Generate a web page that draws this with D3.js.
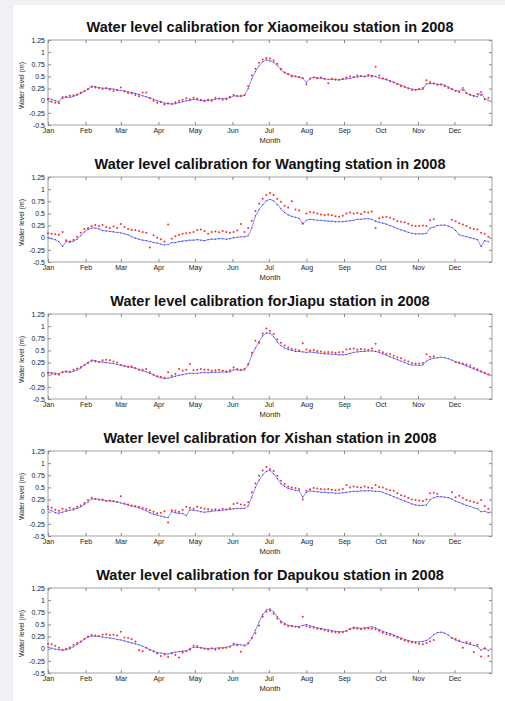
<!DOCTYPE html>
<html>
<head>
<meta charset="utf-8">
<script src="https://cdn.jsdelivr.net/npm/d3@7"></script>
<style>
  body { margin: 0; background: #eff1f5; }
  svg { display: block; font-family: "Liberation Sans", Arial, sans-serif; }
</style>
</head>
<body>
<svg id="chart" width="505" height="701"></svg>
<script>
// station titles, one per panel
var titles = [
  "Water level calibration for Xiaomeikou station in 2008",
  "Water level calibration for Wangting station in 2008",
  "Water level calibration forJiapu station in 2008",
  "Water level calibration for Xishan station in 2008",
  "Water level calibration for Dapukou station in 2008"
];

var yTicks = [-0.5, -0.25, 0, 0.25, 0.5, 0.75, 1, 1.25];

// values every 3 days from 1 Jan 2008
// blue = simulated, red = observed (null = no observation)
var blue1 = [0.05,0.03,0.0,-0.02,0.08,0.07,0.07,0.09,0.12,0.15,0.19,
  0.24,0.3,0.29,0.27,0.26,0.25,0.25,0.24,0.22,
  0.21,0.2,0.18,0.17,0.15,0.13,0.1,0.08,0.06,0.03,0.0,
  -0.03,-0.05,-0.06,-0.07,-0.06,-0.04,-0.02,0.0,0.01,0.03,
  0.02,0.0,0.01,0.0,0.02,0.03,0.05,0.04,0.05,0.06,
  0.1,0.1,0.09,0.11,0.25,0.45,0.6,0.72,0.8,0.84,
  0.82,0.79,0.73,0.64,0.58,0.54,0.52,0.5,0.48,0.46,
  0.38,0.46,0.48,0.47,0.46,0.45,0.44,0.44,0.43,0.43,0.44,
  0.45,0.46,0.48,0.49,0.5,0.5,0.51,0.52,0.5,0.47,
  0.45,0.43,0.41,0.38,0.35,0.32,0.29,0.26,0.24,0.23,
  0.23,0.24,0.35,0.35,0.35,0.34,0.33,0.32,0.28,0.24,
  0.21,0.2,0.27,0.15,0.12,0.1,0.08,0.19,0.04,0.01];
var red1 = [0.03,-0.02,-0.04,-0.05,0.05,0.08,0.1,0.11,0.13,0.17,0.2,
  0.24,0.28,0.27,0.26,0.24,0.26,0.23,0.2,0.22,
  0.27,0.19,0.16,0.15,0.12,0.09,0.17,0.17,0.05,0.0,-0.04,
  -0.02,-0.08,-0.05,-0.06,-0.03,0.0,0.02,0.05,0.03,0.06,
  0.04,0.02,-0.01,0.02,0.0,0.06,0.04,0.02,0.03,0.08,
  0.12,0.09,0.1,0.12,0.3,0.52,0.66,0.78,0.85,0.88,
  0.87,0.83,0.76,0.66,0.58,0.55,0.5,0.5,0.49,0.47,
  0.34,0.45,0.48,0.46,0.48,0.45,0.36,0.45,0.44,0.43,0.45,
  0.48,0.5,0.49,0.52,0.51,0.5,0.53,0.5,0.7,0.52,
  0.46,0.44,0.4,0.38,0.34,0.3,0.28,0.25,0.22,0.22,
  0.24,0.26,0.42,0.38,0.36,0.33,0.34,0.3,0.26,0.24,
  0.2,0.18,0.22,0.16,0.13,0.1,0.14,0.12,0.03,0.06];

var blue2 = [0.0,-0.02,-0.04,-0.08,-0.18,-0.08,-0.09,-0.07,-0.03,0.04,0.12,
  0.17,0.2,0.2,0.18,0.15,0.14,0.13,0.12,0.11,
  0.1,0.08,0.06,0.02,-0.01,-0.03,-0.05,-0.06,-0.08,-0.1,-0.11,
  -0.13,-0.15,-0.14,-0.1,-0.1,-0.08,-0.07,-0.06,-0.05,-0.05,
  -0.04,-0.05,-0.06,-0.04,-0.03,-0.03,-0.02,-0.02,-0.03,-0.02,
  0.0,0.01,0.02,0.02,0.04,0.2,0.45,0.58,0.68,0.76,
  0.79,0.76,0.68,0.6,0.52,0.47,0.44,0.42,0.4,0.28,
  0.36,0.38,0.37,0.36,0.36,0.35,0.34,0.34,0.33,0.33,0.33,
  0.34,0.35,0.36,0.38,0.38,0.39,0.39,0.38,0.34,0.32,
  0.3,0.28,0.25,0.22,0.19,0.16,0.14,0.11,0.09,0.08,
  0.08,0.08,0.09,0.2,0.22,0.25,0.26,0.26,0.24,0.21,
  0.15,0.06,0.04,0.02,0.0,-0.02,-0.04,-0.18,-0.06,-0.08];
var red2 = [0.09,0.08,0.07,0.06,0.12,-0.05,-0.08,-0.04,0.02,0.1,0.18,
  0.2,0.24,0.26,0.24,0.26,0.22,0.2,0.23,0.2,
  0.28,0.22,0.18,0.16,0.16,0.14,0.12,0.1,-0.2,0.05,0.0,
  -0.03,-0.08,0.27,-0.02,0.03,0.06,0.08,0.09,0.1,0.12,
  0.16,0.17,0.14,0.08,0.12,0.13,0.11,0.14,0.12,0.1,
  0.12,0.15,0.28,0.12,0.2,0.35,0.55,0.7,0.8,0.88,
  0.92,0.88,0.8,0.74,0.66,0.62,0.75,0.58,0.56,0.3,
  0.5,0.53,0.52,0.5,0.48,0.47,0.48,0.46,0.44,0.43,0.45,
  0.5,0.52,0.5,0.51,0.49,0.53,0.52,0.54,0.2,0.4,
  0.42,0.43,0.41,0.38,0.34,0.33,0.32,0.29,0.25,0.24,
  0.24,0.25,0.24,0.36,0.38,null,null,null,null,0.37,
  0.34,0.3,0.27,0.24,0.2,0.18,0.17,0.1,0.08,0.02];

var blue3 = [0.05,0.04,0.03,0.02,0.06,0.06,0.05,0.07,0.1,0.14,0.2,
  0.25,0.3,0.29,0.27,0.26,0.25,0.24,0.23,0.21,
  0.2,0.18,0.17,0.15,0.13,0.11,0.08,0.06,0.03,0.0,-0.04,
  -0.06,-0.08,-0.07,-0.05,-0.03,-0.01,0.0,0.02,0.03,0.03,
  0.03,0.04,0.05,0.04,0.05,0.05,0.05,0.06,0.05,0.06,
  0.1,0.1,0.09,0.1,0.2,0.4,0.55,0.68,0.8,0.86,
  0.85,0.78,0.68,0.6,0.55,0.52,0.5,0.48,0.48,0.47,
  0.46,0.47,0.46,0.45,0.44,0.43,0.43,0.42,0.42,0.41,0.41,
  0.42,0.44,0.46,0.47,0.48,0.48,0.49,0.49,0.48,0.46,
  0.43,0.4,0.37,0.34,0.31,0.28,0.25,0.22,0.2,0.2,
  0.19,0.2,0.28,0.32,0.34,0.35,0.36,0.35,0.33,0.3,
  0.27,0.24,0.21,0.18,0.15,0.12,0.09,0.06,0.03,0.0];
var red3 = [0.03,0.02,0.01,0.0,0.05,0.07,0.06,0.1,0.13,0.16,0.2,
  0.24,0.28,0.27,0.26,0.3,0.31,0.3,0.27,0.25,
  0.2,0.18,0.16,0.17,0.14,0.1,0.1,0.12,0.05,0.0,-0.03,
  -0.04,-0.06,0.05,-0.02,0.02,0.12,0.08,0.1,0.22,0.09,
  0.1,0.12,0.1,0.1,0.08,0.09,0.1,0.08,0.07,0.09,
  0.15,0.12,0.1,0.12,0.22,0.45,0.7,0.66,0.85,0.95,
  0.9,0.84,0.73,0.66,0.6,0.56,0.53,0.52,0.5,0.65,
  0.52,0.5,0.51,0.49,0.48,0.46,0.47,0.46,0.45,0.46,0.47,
  0.52,0.53,0.54,0.52,0.53,0.52,0.51,0.54,0.64,0.5,
  0.46,0.43,0.42,0.39,0.36,0.34,0.3,0.27,0.24,0.23,
  0.23,0.24,0.42,0.37,0.38,null,null,null,null,null,
  0.26,0.25,0.23,0.21,0.19,0.14,0.11,0.07,0.04,0.01];

var blue4 = [0.05,0.02,-0.02,-0.03,-0.01,0.01,0.03,0.04,0.07,0.1,0.15,
  0.2,0.26,0.27,0.25,0.24,0.23,0.22,0.21,0.2,
  0.18,0.16,0.14,0.12,0.1,0.08,0.05,0.02,-0.02,-0.05,-0.07,
  -0.09,-0.11,-0.12,0.0,-0.02,-0.03,-0.04,-0.08,0.04,0.03,
  0.02,0.0,-0.01,0.0,0.01,0.02,0.02,0.03,0.04,0.05,
  0.06,0.07,0.07,0.07,0.12,0.3,0.5,0.65,0.76,0.83,
  0.85,0.78,0.68,0.58,0.52,0.48,0.46,0.44,0.43,0.3,
  0.4,0.43,0.42,0.41,0.4,0.4,0.39,0.39,0.38,0.38,0.39,
  0.4,0.41,0.42,0.42,0.43,0.43,0.43,0.43,0.42,0.42,
  0.4,0.37,0.34,0.31,0.28,0.25,0.22,0.19,0.16,0.14,
  0.13,0.13,0.14,0.25,0.29,0.31,0.31,0.3,0.29,0.26,
  0.22,0.19,0.16,0.13,0.11,0.08,0.06,0.0,0.01,-0.02];
var red4 = [0.1,0.08,0.04,0.02,0.06,0.04,0.08,0.06,0.1,0.13,0.18,
  0.24,0.29,0.26,0.25,0.25,0.22,0.23,0.22,0.2,
  0.32,0.17,0.15,0.13,0.12,0.1,0.08,0.06,0.03,0.0,-0.03,
  -0.02,0.01,-0.22,0.03,0.02,0.0,0.04,0.1,0.08,0.06,
  0.1,0.08,0.06,0.05,0.04,0.05,0.04,0.06,0.05,0.07,
  0.16,0.18,0.15,0.14,0.2,0.4,0.58,0.74,0.85,0.92,
  0.88,0.84,0.74,0.64,0.57,0.52,0.5,0.49,0.47,0.25,
  0.43,0.46,0.49,0.48,0.47,0.46,0.47,0.45,0.44,0.45,0.47,
  0.55,0.5,0.52,0.51,0.5,0.52,0.5,0.49,0.55,0.51,
  0.5,0.46,0.44,0.43,0.38,0.34,0.32,0.28,0.25,0.24,
  0.23,0.22,0.25,0.38,0.39,0.37,null,null,null,0.4,
  0.3,0.33,0.28,0.24,0.22,0.2,0.18,0.24,0.12,0.06];

var blue5 = [0.03,0.01,-0.01,-0.02,-0.03,-0.02,0.0,0.04,0.09,0.14,0.2,
  0.24,0.26,0.26,0.25,0.24,0.23,0.22,0.21,0.19,
  0.18,0.16,0.14,0.12,0.1,0.08,0.05,0.02,-0.02,-0.05,-0.08,
  -0.09,-0.1,-0.11,-0.08,-0.07,-0.06,-0.05,-0.04,0.0,0.03,
  0.03,0.02,0.01,0.0,0.0,0.01,0.02,0.02,0.03,0.05,
  0.08,0.09,0.08,0.07,0.1,0.22,0.38,0.55,0.7,0.8,
  0.82,0.76,0.66,0.57,0.52,0.48,0.47,0.46,0.45,0.48,
  0.5,0.47,0.45,0.43,0.42,0.4,0.39,0.37,0.36,0.35,0.35,
  0.37,0.41,0.44,0.43,0.42,0.43,0.44,0.45,0.43,0.39,
  0.36,0.33,0.31,0.28,0.25,0.22,0.19,0.17,0.15,0.14,
  0.14,0.15,0.17,0.22,0.29,0.33,0.34,0.32,0.28,0.22,
  0.18,0.15,0.13,0.11,0.09,0.07,0.05,-0.03,0.02,-0.04];
var red5 = [0.1,0.09,0.06,0.02,-0.02,0.0,0.03,0.08,0.12,0.15,0.2,
  0.25,0.28,0.27,0.26,0.29,0.3,0.28,0.29,0.27,
  0.35,0.23,0.22,0.2,0.15,-0.03,-0.05,0.02,-0.02,-0.05,-0.1,
  -0.15,-0.12,-0.17,-0.1,-0.13,-0.18,-0.08,-0.05,-0.02,0.06,
  0.05,0.02,0.0,-0.01,0.01,-0.02,0.0,0.01,0.02,0.04,
  0.1,0.07,-0.06,0.06,0.12,0.22,0.32,0.48,0.66,0.76,
  0.78,0.72,0.62,0.54,0.5,0.47,0.46,0.45,0.44,0.66,
  0.46,0.44,0.43,0.41,0.4,0.38,0.36,0.35,0.34,0.33,0.34,
  0.36,0.4,0.42,0.41,0.4,0.41,0.42,0.41,0.4,0.37,
  0.33,0.3,0.28,0.26,0.23,0.2,0.17,0.15,0.13,0.12,
  0.1,0.09,0.12,0.15,0.18,null,null,null,null,0.22,
  0.2,0.17,0.02,0.14,0.12,-0.07,0.08,-0.16,0.0,-0.15];

var blues = [blue1, blue2, blue3, blue4, blue5];
var reds = [red1, red2, red3, red4, red5];

var svg = d3.select("#chart");
svg.append("rect").attr("x", 13).attr("y", 5).attr("width", 492).attr("height", 696).attr("fill", "#fff");

var left = 48, right = 492, plotH = 85;
var tops = [40, 177, 314, 451, 588];

var start = new Date(2008, 0, 1), end = new Date(2009, 0, 1);
var dates = d3.range(blue1.length).map(function(i) { return d3.timeDay.offset(start, i * 3); });
var monthTicks = d3.timeMonth.range(start, end);

var x = d3.scaleTime().domain([start, end]).range([left, right]);
var y = d3.scaleLinear().domain([-0.5, 1.25]).range([plotH, 0]);

titles.forEach(function(title, p) {
  var g = svg.append("g").attr("transform", "translate(0," + tops[p] + ")");

  g.append("text")
    .attr("x", (left + right) / 2).attr("y", -8)
    .attr("text-anchor", "middle")
    .attr("font-size", "14.5px").attr("font-weight", "bold").attr("fill", "#111")
    .text(title);

  // inward ticks on all four sides, matlab style
  var bottomAxis = g.append("g").attr("transform", "translate(0," + plotH + ")")
    .call(d3.axisBottom(x).tickValues(monthTicks).tickFormat(d3.timeFormat("%b"))
      .tickSizeInner(-3).tickSizeOuter(0).tickPadding(3));
  var topAxis = g.append("g")
    .call(d3.axisTop(x).tickValues(monthTicks).tickFormat("").tickSizeInner(-3).tickSizeOuter(0));
  var leftAxis = g.append("g").attr("transform", "translate(" + left + ",0)")
    .call(d3.axisLeft(y).tickValues(yTicks).tickFormat(function(d) { return String(d); })
      .tickSizeInner(-3).tickSizeOuter(0).tickPadding(3));
  var rightAxis = g.append("g").attr("transform", "translate(" + right + ",0)")
    .call(d3.axisRight(y).tickValues(yTicks).tickFormat("").tickSizeInner(-3).tickSizeOuter(0));

  [bottomAxis, topAxis, leftAxis, rightAxis].forEach(function(a) {
    a.select(".domain").remove();
    a.selectAll("line").attr("stroke", "#8a8a8a");
    a.selectAll("text").attr("font-size", "7px").attr("fill", "#222")
      .attr("font-family", "'Liberation Sans', Arial, sans-serif");
  });

  g.append("rect")
    .attr("x", left).attr("y", 0).attr("width", right - left).attr("height", plotH)
    .attr("fill", "none").attr("stroke", "#8a8a8a").attr("stroke-width", 0.8);

  g.append("text")
    .attr("transform", "translate(24," + (plotH / 2 + 3) + ") rotate(-90)")
    .attr("text-anchor", "middle").attr("font-size", "7px").attr("fill", "#222")
    .text("Water level (m)");

  g.append("text")
    .attr("x", (left + right) / 2).attr("y", plotH + 17.5)
    .attr("text-anchor", "middle").attr("font-size", "7.5px").attr("fill", "#222")
    .text("Month");

  var sim = dates.map(function(d, i) { return {date: d, v: blues[p][i]}; });
  var obs = dates.map(function(d, i) { return {date: d, v: reds[p][i]}; })
    .filter(function(d) { return d.v != null; });

  g.append("path")
    .datum(sim)
    .attr("fill", "none")
    .attr("stroke", "#6f6fff")
    .attr("stroke-width", 0.8)
    .attr("d", d3.line()
      .x(function(d) { return x(d.date); })
      .y(function(d) { return y(d.v); }));

  g.append("g").selectAll("circle")
    .data(sim).enter().append("circle")
    .attr("cx", function(d) { return x(d.date); })
    .attr("cy", function(d) { return y(d.v); })
    .attr("r", 0.6)
    .attr("fill", "#2a2aff");

  g.append("g").selectAll("circle")
    .data(obs).enter().append("circle")
    .attr("cx", function(d) { return x(d.date); })
    .attr("cy", function(d) { return y(d.v); })
    .attr("r", 1)
    .attr("fill", "#ff2a2a");
});
</script>
</body>
</html>
